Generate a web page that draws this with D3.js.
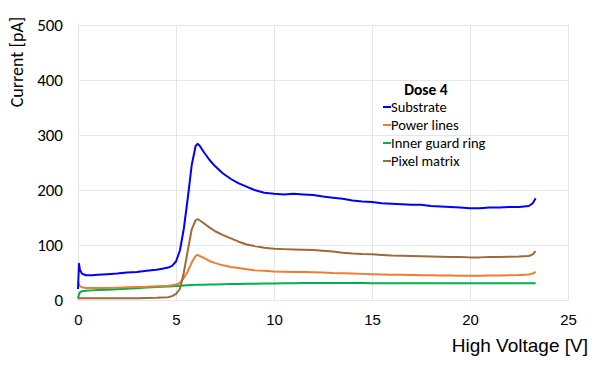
<!DOCTYPE html>
<html><head><meta charset="utf-8">
<script src="https://cdn.jsdelivr.net/npm/d3@7"></script>
<style>body{margin:0;background:#fff}svg{display:block}</style>
</head><body><svg id="c" width="598" height="365"></svg>
<script>
const voltage = [0,0.05,0.1,0.2,0.4,0.7,1.0,1.5,2.0,2.5,3.0,3.5,4.0,4.3,4.6,4.8,5.0,5.2,5.4,5.6,5.8,6.0,6.1,6.2,6.4,6.7,7.0,7.4,7.8,8.2,8.6,9.0,9.5,10.0,10.5,11.0,11.5,12.0,12.5,13.0,13.5,14.0,14.5,15.0,15.5,16.0,16.5,17.0,17.5,18.0,18.5,19.0,19.5,20.0,20.5,21.0,21.5,22.0,22.5,23.0,23.2,23.35];
const substrate = [20,66,55,48,45,45,46,47,48,50,51,53,55,57,59,62,70,90,130,185,245,280,284,281,270,255,243,230,220,212,206,200,195,193,192,193,192,191,188,186,184,181,179,178,176,175,174,173,173,171,170,169,168,167,167,168,168,169,169,171,176,185];
const powerLines = [33,28,25,23,22,22,22,22,22.5,23,23.5,24,25,25.5,26,27,28,31,40,52,68,80,82,80,77,71,67,63,60,58,56,54,53,52,51.5,51,51,50.5,50,49,48.5,48,47.5,47,46.5,46,46,45.5,45,45,44.5,44.5,44,44,44,44.5,44.5,45,45.5,46.5,48,51];
const innerGuardRing = [3,10,14,16,17,17.5,18,18.5,19.5,20.5,21.5,22.5,23.5,24,24.5,25,25.5,26,26.5,27,27.3,27.5,27.6,27.7,27.9,28.1,28.3,28.6,28.9,29.2,29.5,29.7,29.9,30,30.3,30.5,30.8,31,31,31,31,30.8,30.7,30.5,30.5,30.5,30.5,30.5,30.5,30.5,30.5,30.5,30.5,30.5,30.5,30.5,30.5,30.5,30.5,30.5,30.5,30.5];
const pixelMatrix = [2,3,3,3,3,3,3,3,3,3.2,3.4,3.6,4,4.5,5,7,11,20,50,90,128,145,147,145,140,132,125,118,112,106,101,98,95,93,92.5,92,91.5,91,89.5,88,86,84.5,83.5,83,82,81,80.5,80,79.5,79,78.5,78,78,77.5,77.5,78,78,78.5,79,80,83,89];
const seriesNames = ["Substrate","Power lines","Inner guard ring","Pixel matrix"];
const seriesColors = ["#0000FF","#ED7D31","#00B050","#9E6A38"];
const xTicks = [0,5,10,15,20,25];
const yTicks = [0,100,200,300,400,500];
const legendTitle = "Dose 4";

const svg = d3.select("#c");
const x = d3.scaleLinear().domain([0,25]).range([78,568]);
const y = d3.scaleLinear().domain([0,500]).range([300,25]);
const grid = "#E6E6E6";

// grid
svg.append("g").selectAll("line").data(yTicks).join("line")
  .attr("x1",x(0)).attr("x2",x(25)).attr("y1",d=>y(d)).attr("y2",d=>y(d))
  .attr("stroke",grid).attr("stroke-width",1).attr("shape-rendering","crispEdges");
svg.append("g").selectAll("line").data(xTicks).join("line")
  .attr("x1",d=>x(d)).attr("x2",d=>x(d)).attr("y1",y(0)).attr("y2",y(500))
  .attr("stroke",grid).attr("stroke-width",1).attr("shape-rendering","crispEdges");

// axes (labels only)
const xAxis = d3.axisBottom(x).tickValues(xTicks).tickSize(0).tickPadding(14);
const gx = svg.append("g").attr("transform",`translate(0,${y(0)})`).call(xAxis);
gx.select(".domain").remove();
gx.selectAll("text").attr("font-family","Liberation Sans, Arial, sans-serif").attr("font-size","15px").attr("fill","#000");

const yAxis = d3.axisLeft(y).tickValues(yTicks).tickSize(0).tickPadding(15);
const gy = svg.append("g").attr("transform",`translate(${x(0)},0)`).call(yAxis);
gy.select(".domain").remove();
gy.selectAll("text").attr("font-family","Carlito, Lato, sans-serif").attr("font-size","17px").attr("fill","#000");

// series
const allSeries = [substrate,powerLines,innerGuardRing,pixelMatrix];
const line = d3.line().x((d,i)=>x(voltage[i])).y(d=>y(d)).curve(d3.curveLinear);
const drawOrder = [2,1,3,0];
drawOrder.forEach(k=>{
  svg.append("path").datum(allSeries[k]).attr("d",line)
    .attr("fill","none").attr("stroke",seriesColors[k]).attr("stroke-width",2)
    .attr("stroke-linejoin","round");
});

// axis titles
svg.append("text").attr("transform","translate(23,62) rotate(-90)")
  .attr("text-anchor","middle").attr("font-family","Carlito, Lato, sans-serif")
  .attr("font-size","18px").attr("fill","#000").text("Current [pA]");
svg.append("text").attr("x",588).attr("y",352).attr("text-anchor","end")
  .attr("font-family","Liberation Sans, Arial, sans-serif")
  .attr("font-size","19px").attr("fill","#000").text("High Voltage [V]");

// legend
svg.append("text").attr("x",426).attr("y",95).attr("text-anchor","middle")
  .attr("font-family","Carlito, Lato, sans-serif").attr("font-weight","bold")
  .attr("font-size","15.5px").attr("fill","#000").text(legendTitle);
const lg = svg.append("g").selectAll("g").data(seriesNames).join("g")
  .attr("transform",(d,i)=>`translate(383,${107+i*18})`);
lg.append("line").attr("x1",0).attr("x2",8).attr("y1",0).attr("y2",0)
  .attr("stroke",(d,i)=>seriesColors[i]).attr("stroke-width",2);
lg.append("text").attr("x",8).attr("y",5)
  .attr("font-family","Carlito, Lato, sans-serif").attr("font-size","14.5px")
  .attr("fill","#000").text(d=>d);
</script></body></html>
